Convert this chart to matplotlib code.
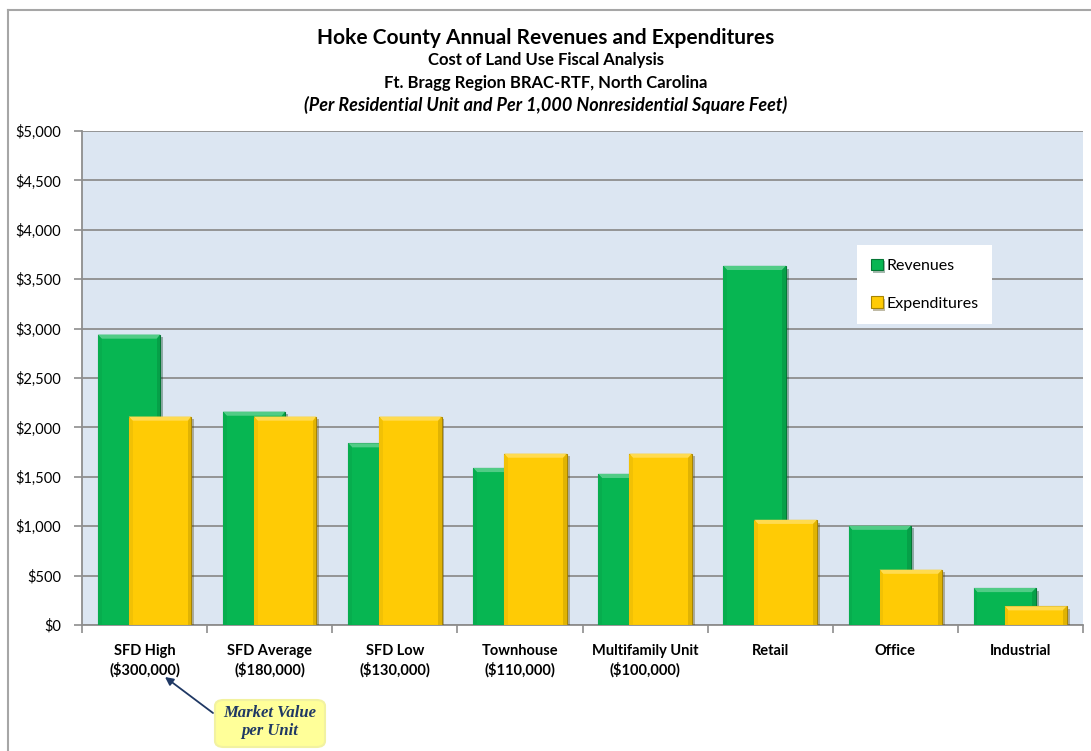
import numpy as np
import matplotlib.pyplot as plt
from matplotlib.patches import Polygon, FancyBboxPatch
from matplotlib.lines import Line2D
import matplotlib.patheffects as pe
import matplotlib.ticker as ticker
import matplotlib.colors as mcolors

# land use types and annual county revenue / expenditure per unit
categories = ["SFD High\n($300,000)", "SFD Average\n($180,000)", "SFD Low\n($130,000)",
              "Townhouse\n($110,000)", "Multifamily Unit\n($100,000)", "Retail",
              "Office", "Industrial"]
revenues = [2940, 2160, 1840, 1590, 1530, 3635, 1005, 375]
expenditures = [2110, 2110, 2110, 1735, 1735, 1065, 560, 190]

GREEN = "#07B652"
YELLOW = "#FFCB05"
BG = "#DCE6F2"
GRID = "#8E8E8E"

plt.rcParams['font.family'] = ['Lato', 'DejaVu Sans']

fig = plt.figure(figsize=(10.91, 7.51), dpi=100)
ax = fig.add_axes([82 / 1091, (751 - 625) / 751, (1083 - 82) / 1091, (625 - 131) / 751])
ax.set_facecolor(BG)

x = np.arange(len(categories))
off = 0.124
width = 0.5


def lighten(c, amt):
    rgb = np.array(mcolors.to_rgb(c))
    return tuple(rgb + (1 - rgb) * amt)


def darken(c, amt):
    rgb = np.array(mcolors.to_rgb(c))
    return tuple(rgb * (1 - amt))


def bevel(bars, color, z):
    # soft bevelled edges on each bar
    dx = 0.03
    dy = 42
    for b in bars:
        x0, y0 = b.get_x(), b.get_y()
        w, h = b.get_width(), b.get_height()
        top = y0 + h
        d = min(dy, h * 0.45)
        ax.add_patch(Polygon([(x0, top), (x0 + w, top), (x0 + w - dx, top - d), (x0 + dx, top - d)],
                             closed=True, facecolor=lighten(color, 0.3), edgecolor='none', zorder=z + 0.1))
        ax.add_patch(Polygon([(x0 + w, top), (x0 + w, y0), (x0 + w - dx, y0), (x0 + w - dx, top - d)],
                             closed=True, facecolor=darken(color, 0.12), edgecolor='none', zorder=z + 0.1))
        ax.add_patch(Polygon([(x0, top), (x0, y0), (x0 + dx, y0), (x0 + dx, top - d)],
                             closed=True, facecolor=darken(color, 0.05), edgecolor='none', zorder=z + 0.1))


shadow = [pe.SimplePatchShadow(offset=(2, -2), alpha=0.35), pe.Normal()]
rev_bars = ax.bar(x - off, revenues, width, color=GREEN, edgecolor=darken(GREEN, 0.35),
                  linewidth=0.8, zorder=3, label="Revenues", path_effects=shadow)
bevel(rev_bars, GREEN, 3)
exp_bars = ax.bar(x + off, expenditures, width, color=YELLOW, edgecolor=darken(YELLOW, 0.35),
                  linewidth=0.8, zorder=4, label="Expenditures", path_effects=shadow)
bevel(exp_bars, YELLOW, 4)

ax.set_xlim(-0.5, len(categories) - 0.5)
ax.set_ylim(0, 5000)
ax.yaxis.set_major_locator(ticker.MultipleLocator(500))
ax.yaxis.set_major_formatter(ticker.FuncFormatter(lambda v, p: "${:,.0f}".format(v)))
ax.grid(axis='y', color=GRID, linewidth=1.3, zorder=1)
ax.set_axisbelow(True)

ax.set_xticks(np.arange(-0.5, len(categories)), minor=False)
ax.set_xticklabels([])
ax.set_xticks(x, minor=True)
ax.set_xticklabels(categories, minor=True, fontweight='bold', fontsize=10.5, linespacing=1.3)
ax.tick_params(axis='x', which='minor', length=0, pad=14)
ax.tick_params(axis='x', which='major', length=6, color=GRID, width=1.2)
ax.tick_params(axis='y', length=6, color=GRID, width=1.2, labelsize=10.5, pad=9)

for s in ['top', 'right']:
    ax.spines[s].set_visible(False)
for s in ['left', 'bottom']:
    ax.spines[s].set_color(GRID)
    ax.spines[s].set_linewidth(1.3)

leg = ax.legend(loc='upper left', bbox_to_anchor=((849 - 82) / 1001, (625 - 237) / 494),
                frameon=True, fancybox=False, framealpha=1, edgecolor='white',
                fontsize=11.5, handlelength=0.75, handleheight=0.75, handletextpad=0.25,
                labelspacing=1.45, borderpad=0.85)
leg.get_frame().set_linewidth(0)

# titles
fig.text(0.5, 1 - 38 / 751, "Hoke County Annual Revenues and Expenditures", ha='center', va='center',
         fontsize=15, fontweight='bold')
fig.text(0.5, 1 - 60 / 751, "Cost of Land Use Fiscal Analysis", ha='center', va='center',
         fontsize=12, fontweight='bold')
fig.text(0.5, 1 - 83 / 751, "Ft. Bragg Region BRAC-RTF, North Carolina", ha='center', va='center',
         fontsize=12, fontweight='bold')
fig.text(0.5, 1 - 105 / 751, "(Per Residential Unit and Per 1,000 Nonresidential Square Feet)",
         ha='center', va='center', fontsize=13, fontweight='bold', style='italic')

# chart border
fig.add_artist(Line2D([8 / 1091, 8 / 1091], [0, 1 - 10 / 751], transform=fig.transFigure,
                      color='#A6A6A6', linewidth=1.5))
fig.add_artist(Line2D([8 / 1091, 1], [1 - 10 / 751, 1 - 10 / 751], transform=fig.transFigure,
                      color='#A6A6A6', linewidth=1.5))

# market value callout
box = FancyBboxPatch((215 / 1091, 1 - 747 / 751), 110 / 1091, 47 / 751,
                     boxstyle="round,pad=0,rounding_size=0.008", transform=fig.transFigure,
                     facecolor='#FFFF99', edgecolor='#F2F2A0', linewidth=1.5)
fig.add_artist(box)
fig.text(270 / 1091, 1 - 722 / 751, "Market Value\nper Unit", ha='center', va='center',
         fontsize=12, fontweight='bold', style='italic', color='#1F3864',
         family='Liberation Serif', linespacing=1.15)
ax.annotate("", xy=(165 / 1091, 1 - 677 / 751), xycoords='figure fraction',
            xytext=(213 / 1091, 1 - 713 / 751), textcoords='figure fraction',
            arrowprops=dict(arrowstyle='-|>', color='#1F3864', lw=1.3, mutation_scale=12,
                            shrinkA=0, shrinkB=0),
            annotation_clip=False)

fig.savefig("out.png", dpi=100)
